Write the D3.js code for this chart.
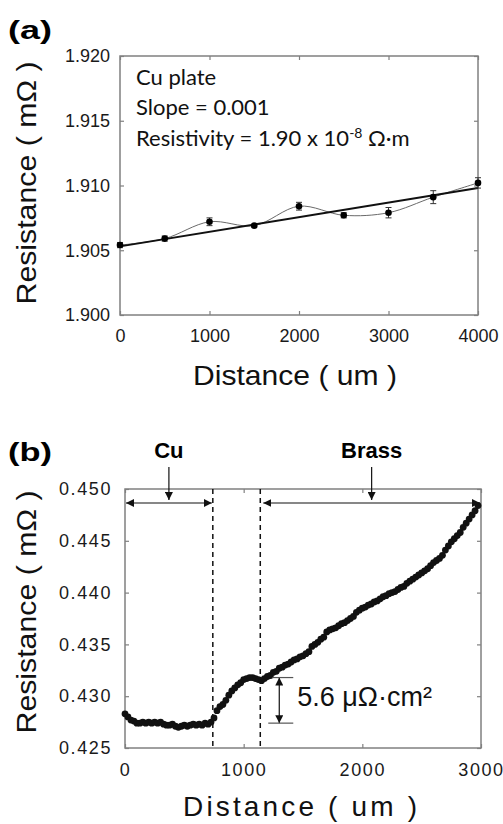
<!DOCTYPE html>
<html>
<head>
<meta charset="utf-8">
<script src="https://cdn.jsdelivr.net/npm/d3@7"></script>
<style>
  body { margin: 0; background: #fff; }
  text { font-family: "Liberation Sans", Arial, sans-serif; }
</style>
</head>
<body>
<div id="chart"></div>
<script>
// ---- panel (a): Cu plate, resistance vs distance ----
const distA = [0, 500, 1000, 1500, 2000, 2500, 3000, 3500, 4000];
const resA = [1.9054, 1.9059, 1.9072, 1.9069, 1.9084, 1.9077, 1.9079, 1.9091, 1.9102];
const errA = [0.0002, 0.0002, 0.0003, 0.0001, 0.0003, 0.0002, 0.0004, 0.0005, 0.0004];
const fitDist = [0, 4000];
const fitRes = [1.9053, 1.9098];
const xTicksA = [0, 1000, 2000, 3000, 4000];
const yTicksA = [1.900, 1.905, 1.910, 1.915, 1.920];
const noteLines = ["Cu plate", "Slope = 0.001"];

// ---- panel (b): Cu / brass joint scan ----
const scanB = [
  [0, 0.4283], [25, 0.4280], [50, 0.4277], [75, 0.4276], [100, 0.4274], [125, 0.4274],
  [150, 0.4275], [175, 0.4274], [200, 0.4275], [225, 0.4274], [250, 0.4275], [275, 0.4274],
  [300, 0.4275], [325, 0.4273], [350, 0.4272], [375, 0.4272], [400, 0.4273], [425, 0.4271],
  [450, 0.4270], [475, 0.4271], [500, 0.4272], [525, 0.4271], [550, 0.4272], [575, 0.4273],
  [600, 0.4272], [625, 0.4273], [650, 0.4272], [675, 0.4274], [700, 0.4273], [725, 0.4275],
  [750, 0.4279], [775, 0.4286], [800, 0.4290], [825, 0.4292], [850, 0.4296], [875, 0.4301],
  [900, 0.4305], [925, 0.4308], [950, 0.4311], [975, 0.4313], [1000, 0.4316], [1025, 0.4317],
  [1050, 0.4318], [1075, 0.4318], [1100, 0.4317], [1125, 0.4316], [1150, 0.4315], [1175, 0.4317],
  [1200, 0.4319], [1225, 0.4320], [1250, 0.4323], [1275, 0.4324], [1300, 0.4327], [1325, 0.4328],
  [1350, 0.4330], [1375, 0.4331], [1400, 0.4333], [1425, 0.4335], [1450, 0.4336], [1475, 0.4338],
  [1500, 0.4339], [1525, 0.4341], [1550, 0.4343], [1575, 0.4348], [1600, 0.4350], [1625, 0.4352],
  [1650, 0.4355], [1675, 0.4357], [1700, 0.4362], [1725, 0.4364], [1750, 0.4365], [1775, 0.4366],
  [1800, 0.4368], [1825, 0.4370], [1850, 0.4371], [1875, 0.4373], [1900, 0.4375], [1925, 0.4377],
  [1950, 0.4381], [1975, 0.4383], [2000, 0.4385], [2025, 0.4386], [2050, 0.4388], [2075, 0.4389],
  [2100, 0.4391], [2125, 0.4392], [2150, 0.4394], [2175, 0.4396], [2200, 0.4397], [2225, 0.4399],
  [2250, 0.4400], [2275, 0.4401], [2300, 0.4403], [2325, 0.4405], [2350, 0.4406], [2375, 0.4409],
  [2400, 0.4411], [2425, 0.4413], [2450, 0.4415], [2475, 0.4417], [2500, 0.4419], [2525, 0.4421],
  [2550, 0.4423], [2575, 0.4426], [2600, 0.4429], [2625, 0.4431], [2650, 0.4433], [2675, 0.4436],
  [2700, 0.4441], [2725, 0.4445], [2750, 0.4449], [2775, 0.4452], [2800, 0.4455], [2825, 0.4458],
  [2850, 0.4463], [2875, 0.4467], [2900, 0.4471], [2925, 0.4475], [2950, 0.4479], [2975, 0.4484]
];
const interfaceX = [740, 1140];          // dashed boundaries Cu | joint | brass
const stepRes = [0.4274, 0.4318];        // levels bracketing the 5.6 µΩ·cm² step
const stepAt = 1300;
const regionLabels = ["Cu", "Brass"];
const xTicksB = [0, 1000, 2000, 3000];
const yTicksB = [0.425, 0.430, 0.435, 0.440, 0.445, 0.450];

const svg = d3.select("#chart")
  .append("svg")
  .attr("width", 503)
  .attr("height", 824);

svg.append("rect").attr("width", 503).attr("height", 824).attr("fill", "#fff");

const frameColor = "#808080";

// arrowhead marker
svg.append("defs").append("marker")
  .attr("id", "head")
  .attr("viewBox", "0 0 10 10")
  .attr("refX", 10).attr("refY", 5)
  .attr("markerWidth", 8).attr("markerHeight", 8)
  .attr("markerUnits", "userSpaceOnUse")
  .attr("orient", "auto-start-reverse")
  .append("path")
  .attr("d", "M0,0 L10,5 L0,10 Z")
  .attr("fill", "#111");

// inward ticks on all four sides, grey frame
function drawFrame(x, y, xTicks, yTicks, opts) {
  const [x0, x1] = x.range();
  const [y0, y1] = y.range();
  const styleAxis = g => {
    g.select(".domain").remove();
    g.selectAll(".tick line").attr("stroke", frameColor).attr("stroke-width", 1.2);
    g.attr("font-family", "Liberation Sans, Arial, sans-serif")
      .attr("font-size", opts.fontSize);
    g.selectAll("text").attr("fill", "#1a1a1a").attr("letter-spacing", opts.spacing);
  };
  svg.append("g").attr("transform", `translate(0,${y0})`)
    .call(d3.axisBottom(x).tickValues(xTicks).tickSize(-4).tickPadding(opts.padX).tickFormat(d3.format("d")))
    .call(styleAxis);
  svg.append("g").attr("transform", `translate(0,${y1})`)
    .call(d3.axisTop(x).tickValues(xTicks).tickSize(-4).tickFormat(""))
    .call(styleAxis);
  svg.append("g").attr("transform", `translate(${x0},0)`)
    .call(d3.axisLeft(y).tickValues(yTicks).tickSize(-4).tickPadding(opts.padY).tickFormat(d3.format(".3f")))
    .call(styleAxis);
  svg.append("g").attr("transform", `translate(${x1},0)`)
    .call(d3.axisRight(y).tickValues(yTicks).tickSize(-4).tickFormat(""))
    .call(styleAxis);
  svg.append("rect")
    .attr("x", x0).attr("y", y1)
    .attr("width", x1 - x0).attr("height", y0 - y1)
    .attr("fill", "none")
    .attr("stroke", frameColor)
    .attr("stroke-width", 1.5);
}

// ================= panel (a) =================
const xA = d3.scaleLinear().domain([0, 4000]).range([120, 478]);
const yA = d3.scaleLinear().domain([1.900, 1.920]).range([315, 56]);

drawFrame(xA, yA, xTicksA, yTicksA, { fontSize: 18, spacing: 0, padX: 14, padY: 10 });

const pointsA = distA.map((d, i) => ({ d: d, r: resA[i], e: errA[i] }));

// thin smooth guide through the points
svg.append("path")
  .datum(pointsA)
  .attr("fill", "none")
  .attr("stroke", "#6a6a6a")
  .attr("stroke-width", 1)
  .attr("d", d3.line().x(p => xA(p.d)).y(p => yA(p.r)).curve(d3.curveCatmullRom.alpha(0.5)));

// linear fit
svg.append("path")
  .datum(fitDist.map((d, i) => [d, fitRes[i]]))
  .attr("fill", "none")
  .attr("stroke", "#111")
  .attr("stroke-width", 2)
  .attr("d", d3.line().x(p => xA(p[0])).y(p => yA(p[1])));

// error bars
const bars = svg.append("g").attr("stroke", "#333").attr("stroke-width", 1);
pointsA.forEach(p => {
  const cx = xA(p.d);
  bars.append("line").attr("x1", cx).attr("x2", cx).attr("y1", yA(p.r - p.e)).attr("y2", yA(p.r + p.e));
  bars.append("line").attr("x1", cx - 3).attr("x2", cx + 3).attr("y1", yA(p.r - p.e)).attr("y2", yA(p.r - p.e));
  bars.append("line").attr("x1", cx - 3).attr("x2", cx + 3).attr("y1", yA(p.r + p.e)).attr("y2", yA(p.r + p.e));
});

svg.selectAll(".dotA")
  .data(pointsA)
  .enter().append("circle")
  .attr("class", "dotA")
  .attr("cx", p => xA(p.d))
  .attr("cy", p => yA(p.r))
  .attr("r", 3.3)
  .attr("fill", "#000");

// note box text
const noteFont = "Lato, 'Open Sans', sans-serif";
svg.selectAll(".note")
  .data(noteLines)
  .enter().append("text")
  .attr("class", "note")
  .attr("x", 136)
  .attr("y", (d, i) => 85 + i * 30)
  .style("font-family", noteFont)
  .attr("font-size", 22)
  .attr("fill", "#111")
  .text(d => d);

const rho = svg.append("text")
  .attr("x", 136).attr("y", 146)
  .style("font-family", noteFont)
  .attr("font-size", 22)
  .attr("fill", "#111");
rho.append("tspan").text("Resistivity = 1.90 x 10");
rho.append("tspan").attr("dy", -8).attr("font-size", 14).text("-8");
rho.append("tspan").attr("dy", 8).text(" \u03A9\u00B7m");

// titles (a)
svg.append("text")
  .attr("x", 8).attr("y", 39)
  .attr("font-size", 26).attr("font-weight", "bold")
  .attr("textLength", 44).attr("lengthAdjust", "spacingAndGlyphs")
  .text("(a)");

svg.append("text")
  .attr("x", 295).attr("y", 385)
  .attr("text-anchor", "middle")
  .attr("font-size", 28)
  .attr("fill", "#111")
  .attr("textLength", 204).attr("lengthAdjust", "spacingAndGlyphs")
  .text("Distance ( um )");

svg.append("text")
  .attr("transform", "translate(27,183) rotate(-90)")
  .attr("dy", "0.35em")
  .attr("text-anchor", "middle")
  .attr("font-size", 27)
  .attr("fill", "#111")
  .attr("textLength", 243).attr("lengthAdjust", "spacingAndGlyphs")
  .text("Resistance ( m\u03A9 )");

// ================= panel (b) =================
const xB = d3.scaleLinear().domain([0, 3000]).range([125, 481]);
const yB = d3.scaleLinear().domain([0.425, 0.450]).range([748, 489]);

drawFrame(xB, yB, xTicksB, yTicksB, { fontSize: 18, spacing: 1.6, padX: 15, padY: 13 });

// interface boundaries
svg.selectAll(".iface")
  .data(interfaceX)
  .enter().append("line")
  .attr("class", "iface")
  .attr("x1", d => xB(d)).attr("x2", d => xB(d))
  .attr("y1", yB.range()[1]).attr("y2", yB.range()[0])
  .attr("stroke", "#111")
  .attr("stroke-width", 1.5)
  .attr("stroke-dasharray", "5,4");

svg.selectAll(".dotB")
  .data(scanB)
  .enter().append("circle")
  .attr("class", "dotB")
  .attr("cx", p => xB(p[0]))
  .attr("cy", p => yB(p[1]))
  .attr("r", 3.4)
  .attr("fill", "#111");

// region spans with double arrows
const arrowY = 503;
const spans = [
  [xB(0) + 1, xB(interfaceX[0]) - 1],
  [xB(interfaceX[1]) + 3, xB(3000) - 1]
];
spans.forEach((s, i) => {
  svg.append("line")
    .attr("x1", s[0]).attr("x2", s[1]).attr("y1", arrowY).attr("y2", arrowY)
    .attr("stroke", "#111").attr("stroke-width", 1.2)
    .attr("marker-start", "url(#head)").attr("marker-end", "url(#head)");
  const mid = (s[0] + s[1]) / 2;
  svg.append("line")
    .attr("x1", mid).attr("x2", mid).attr("y1", 467).attr("y2", arrowY - 3)
    .attr("stroke", "#111").attr("stroke-width", 1.2)
    .attr("marker-end", "url(#head)");
  svg.append("text")
    .attr("x", mid).attr("y", 458)
    .attr("text-anchor", "middle")
    .attr("font-size", 22).attr("font-weight", "bold")
    .text(regionLabels[i]);
});

// step annotation
const sx = xB(stepAt);
svg.append("line")
  .attr("x1", sx).attr("x2", sx).attr("y1", yB(stepRes[1])).attr("y2", yB(stepRes[0]))
  .attr("stroke", "#111").attr("stroke-width", 1.2)
  .attr("marker-start", "url(#head)").attr("marker-end", "url(#head)");
svg.append("line")
  .attr("x1", sx - 7).attr("x2", sx + 14).attr("y1", yB(stepRes[1])).attr("y2", yB(stepRes[1]))
  .attr("stroke", "#555").attr("stroke-width", 1.2);
svg.append("line")
  .attr("x1", sx - 11).attr("x2", sx + 14).attr("y1", yB(stepRes[0])).attr("y2", yB(stepRes[0]))
  .attr("stroke", "#555").attr("stroke-width", 1.2);
svg.append("text")
  .attr("x", sx + 18).attr("y", 706)
  .attr("font-size", 27)
  .attr("fill", "#111")
  .text("5.6 \u03BC\u03A9\u00B7cm\u00B2");

// titles (b)
svg.append("text")
  .attr("x", 8).attr("y", 461)
  .attr("font-size", 26).attr("font-weight", "bold")
  .attr("textLength", 44).attr("lengthAdjust", "spacingAndGlyphs")
  .text("(b)");

svg.append("text")
  .attr("x", 300).attr("y", 816)
  .attr("text-anchor", "middle")
  .attr("font-size", 28)
  .attr("fill", "#111")
  .attr("textLength", 234).attr("lengthAdjust", "spacing")
  .text("Distance ( um )");

svg.append("text")
  .attr("transform", "translate(27,612) rotate(-90)")
  .attr("dy", "0.35em")
  .attr("text-anchor", "middle")
  .attr("font-size", 27)
  .attr("fill", "#111")
  .attr("textLength", 243).attr("lengthAdjust", "spacingAndGlyphs")
  .text("Resistance ( m\u03A9 )");
</script>
</body>
</html>
